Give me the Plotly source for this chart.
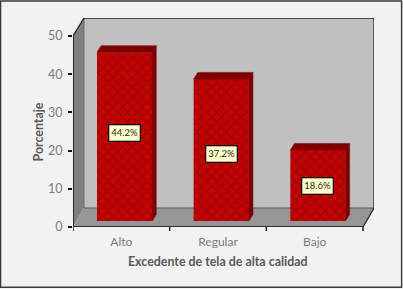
import plotly.graph_objects as go

categories = ["Alto", "Regular", "Bajo"]
values = [44.2, 37.2, 18.6]
value_labels = ["44.2%", "37.2%", "18.6%"]
label_y = [24.5, 19.1, 10.7]
y_ticks = [0, 10, 20, 30, 40, 50]

W, H = 403, 289
L, R, T, B = 73, 374, 18, 227      # plot area in px
PX_X = 96.67                       # px per category
PX_Y = 3.82                        # px per y unit
x0 = -0.5
x1 = x0 + (R - L) / PX_X
y1 = (B - T) / PX_Y
dX = 11 / PX_X                     # chart depth
dY = 19 / PX_Y
bar_w = 0.57
bar_dx = 3.2 / PX_X                # front-face offset
base = 5.9 / PX_Y
side_x = 4.2 / PX_X                # bar depth
side_y = 6.6 / PX_Y
xF = x0 + (363 - L) / PX_X

fig = go.Figure()

def wall(xs, ys, fill):
    d = "M" + "L".join(f"{a},{b}" for a, b in zip(xs, ys)) + "Z"
    fig.add_shape(type="path", path=d, xref="x", yref="y", fillcolor=fill, line=dict(width=0), layer="below")

def wline(xs, ys, color, w):
    d = "M" + "L".join(f"{a},{b}" for a, b in zip(xs, ys))
    fig.add_shape(type="path", path=d, xref="x", yref="y", line=dict(color=color, width=w), layer="below")

# walls
wall([x0 + dX, x1, x1, x0 + dX], [dY, dY, y1, y1], "#c0c0c0")
wall([x0, x0 + dX, x0 + dX, x0], [0, dY, y1, 50], "#808080")
wall([x0, x0 + dX, x1, xF], [0, dY, dY, 0], "#969696")
wline([x0 + dX, x0 + dX], [dY, y1], "#6e6e6e", 1)
wline([x0 + dX, x1], [dY, dY], "#5a5a5a", 1)
wline([x0, x0 + dX, x1, x1, xF], [50, y1, y1, dY, 0], "#222222", 1.3)

# bar front faces
fig.add_trace(go.Bar(
    x=list(range(len(categories))), y=values, base=base, width=bar_w,
    offset=-bar_w / 2 + bar_dx,
    marker=dict(color="#cc0000", line=dict(width=0),
                pattern=dict(shape="x", fgcolor="#5a1616", bgcolor="#cc0000", size=7, solidity=0.36)),
    hoverinfo="skip", showlegend=False))

# bar side and top faces
def poly(xs, ys, fill, line):
    fig.add_trace(go.Scatter(x=xs + xs[:1], y=ys + ys[:1], mode="lines", fill="toself",
                             fillcolor=fill, line=dict(color=line, width=0.5),
                             hoverinfo="skip", showlegend=False))

for i, v in enumerate(values):
    l = i - bar_w / 2 + bar_dx
    r = i + bar_w / 2 + bar_dx
    t = v + base
    poly([r, r + side_x, r + side_x, r], [base, base + side_y, t + side_y, t], "#7f0000", "#7f0000")
    poly([l, l + side_x, r + side_x, r], [t, t + side_y, t + side_y, t], "#800000", "#700000")

# front axis lines
def ln(xs, ys, color, w):
    fig.add_trace(go.Scatter(x=xs, y=ys, mode="lines", line=dict(color=color, width=w),
                             hoverinfo="skip", showlegend=False, cliponaxis=False))
ln([x0, x0], [0, 50], "#111111", 1.6)
ln([x0, xF], [0, 0], "#333333", 1.8)
for k in [0, 1, 2, 3]:
    fig.add_shape(type="line", xref="x", yref="paper", x0=x0 + k, x1=x0 + k, y0=0, y1=-4 / (B - T),
                  line=dict(color="#222222", width=1.5))

# value labels
for i, (t, y) in enumerate(zip(value_labels, label_y)):
    fig.add_annotation(x=i + bar_dx, y=y, text=t, showarrow=False, xanchor="center", yanchor="middle",
                       font=dict(family="Lato", size=9.5, color="#262626"),
                       bgcolor="#ffffcc", bordercolor="#111111", borderwidth=1.3, borderpad=2)

def px(xp):
    return (xp - L) / (R - L)
def py(yp):
    return (B - yp) / (B - T)

# axis titles
fig.add_annotation(xref="paper", yref="paper", x=px(218), y=py(261.5), text="<b>Excedente de tela de alta calidad</b>",
                   showarrow=False, xanchor="center", yanchor="middle",
                   font=dict(family="Lato", size=12.4, color="#595959"))
fig.add_annotation(xref="paper", yref="paper", x=px(38), y=py(132.5), text="<b>Porcentaje</b>", textangle=-90,
                   showarrow=False, xanchor="center", yanchor="middle",
                   font=dict(family="Lato", size=12.4, color="#595959"))

# frame
fig.add_shape(type="rect", xref="paper", yref="paper", x0=px(0.6), x1=px(401.6), y0=py(1), y1=py(287.2),
              line=dict(color="#3a3a3a", width=1.4), fillcolor="rgba(0,0,0,0)")

fig.update_layout(
    width=W, height=H, margin=dict(l=L, r=W - R, t=T, b=H - B),
    paper_bgcolor="#f2f2f2", plot_bgcolor="rgba(0,0,0,0)", barmode="overlay",
    xaxis=dict(range=[x0, x1], tickmode="array", tickvals=list(range(3)), ticktext=categories,
               showgrid=False, zeroline=False, showline=False, ticks="", ticklabelstandoff=6,
               tickfont=dict(family="Lato", size=12, color="#7a7a7a")),
    yaxis=dict(range=[0, y1], tickmode="array", tickvals=y_ticks, showgrid=False, zeroline=False,
               showline=False, ticks="outside", ticklen=4, tickwidth=1.5, tickcolor="#111111",
               ticklabelstandoff=3,
               tickfont=dict(family="Lato", size=12.5, color="#7a7a7a")),
)

fig.write_html("out.html", config={"displayModeBar": False, "responsive": False},
               post_script="document.body.style.margin='0';document.body.style.overflow='hidden';")
